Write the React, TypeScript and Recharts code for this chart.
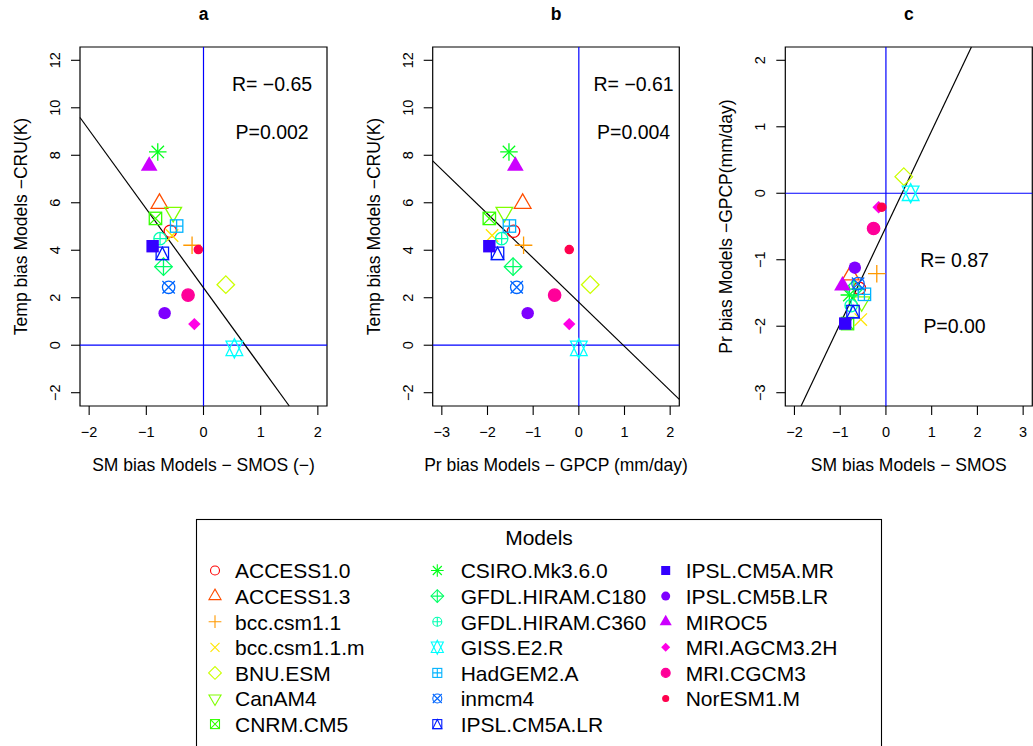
import React from 'react';
import { ScatterChart, Scatter, XAxis, YAxis, ReferenceLine, ReferenceArea } from 'recharts';

// ---------------- data ----------------
const models = [
  'ACCESS1.0', 'ACCESS1.3', 'bcc.csm1.1', 'bcc.csm1.1.m', 'BNU.ESM', 'CanAM4', 'CNRM.CM5',
  'CSIRO.Mk3.6.0', 'GFDL.HIRAM.C180', 'GFDL.HIRAM.C360', 'GISS.E2.R', 'HadGEM2.A', 'inmcm4', 'IPSL.CM5A.LR',
  'IPSL.CM5A.MR', 'IPSL.CM5B.LR', 'MIROC5', 'MRI.AGCM3.2H', 'MRI.CGCM3', 'NorESM1.M',
];
const smBias = [-0.58, -0.77, -0.2, -0.55, 0.39, -0.53, -0.84, -0.8, -0.7, -0.76, 0.54, -0.47, -0.61, -0.72, -0.89, -0.68, -0.95, -0.16, -0.27, -0.09];
const prBias = [-1.43, -1.23, -1.21, -1.9, 0.25, -1.63, -1.96, -1.53, -1.44, -1.69, 0.0, -1.52, -1.36, -1.78, -1.96, -1.12, -1.39, -0.21, -0.53, -0.21];
const tempBias = [4.8, 5.97, 4.21, 4.62, 2.55, 5.6, 5.34, 8.14, 3.31, 4.49, -0.13, 5.02, 2.44, 3.87, 4.17, 1.35, 7.55, 0.89, 2.11, 4.03];
const pchCodes = [1, 2, 3, 4, 5, 6, 7, 8, 9, 10, 11, 12, 13, 14, 15, 16, 17, 18, 19, 20];
const modelColors = [
  '#FF0000', '#FF4D00', '#FF9900', '#FFE500', '#CCFF00', '#80FF00', '#33FF00', '#00FF19', '#00FF66', '#00FFB2',
  '#00FFFF', '#00B3FF', '#0066FF', '#0019FF', '#3300FF', '#7F00FF', '#CC00FF', '#FF00E6', '#FF0099', '#FF004D',
];

// fitted regression lines
const fitA = { intercept: 2.42, slope: -3.32 };
const fitB = { intercept: 1.81, slope: -1.86 };
const fitC = { intercept: -0.51, slope: 1.45 };

const statsA = [{ x: 1.2, y: 11, text: 'R= \u22120.65' }, { x: 1.2, y: 9, text: 'P=0.002' }];
const statsB = [{ x: 1.2, y: 11, text: 'R= \u22120.61' }, { x: 1.2, y: 9, text: 'P=0.004' }];
const statsC = [{ x: 1.5, y: -1, text: 'R= 0.87' }, { x: 1.5, y: -2, text: 'P=0.00' }];

const xTicksA = [-2, -1, 0, 1, 2];
const xTicksB = [-3, -2, -1, 0, 1, 2];
const xTicksC = [-2, -1, 0, 1, 2, 3];
const yTicksTemp = [-2, 0, 2, 4, 6, 8, 10, 12];
const yTicksPr = [-3, -2, -1, 0, 1, 2];

const titles = ['a', 'b', 'c'];
const xLabels = ['SM bias Models \u2212 SMOS (\u2212)', 'Pr bias Models \u2212 GPCP (mm/day)', 'SM bias Models \u2212 SMOS'];
const yLabels = ['Temp bias Models \u2212CRU(K)', 'Temp bias Models \u2212CRU(K)', 'Pr bias Models \u2212GPCP(mm/day)'];
const legendTitle = 'Models';

// ---------------- styling ----------------
const FONT = '"Liberation Sans", Arial, Helvetica, sans-serif';
const CHART_H = 490;
const PLOT_TOP = 47;
const PLOT_BOTTOM = 406;
const XAXIS_H = 40;
const YAXIS_W = 40;

const fmt = (v: number) => (v < 0 ? '\u2212' + Math.abs(v) : String(v));

function PchSymbol({ pch, cx, cy, color, r, lw }: any) {
  const s = { stroke: color, strokeWidth: lw, fill: 'none' };
  const f = { fill: color, stroke: 'none' };
  const tc0 = 1.5551, tc1 = 1.3468, tc2 = 0.7776;
  const h2 = Math.SQRT2 * r;
  const plus = (h: number) => <path d={`M${cx - h},${cy}H${cx + h}M${cx},${cy - h}V${cy + h}`} {...s} />;
  const times = (h: number) => (
    <path d={`M${cx - h},${cy - h}L${cx + h},${cy + h}M${cx - h},${cy + h}L${cx + h},${cy - h}`} {...s} />
  );
  const square = (h: number, st: any) => <rect x={cx - h} y={cy - h} width={2 * h} height={2 * h} {...st} />;
  const diamond = (h: number, st: any) => (
    <polygon points={`${cx - h},${cy} ${cx},${cy - h} ${cx + h},${cy} ${cx},${cy + h}`} {...st} />
  );
  const triUp = (st: any, yb = tc2) => (
    <polygon points={`${cx},${cy - tc0 * r} ${cx + tc1 * r},${cy + yb * r} ${cx - tc1 * r},${cy + yb * r}`} {...st} />
  );
  const triDown = (st: any, yb = tc2) => (
    <polygon points={`${cx},${cy + tc0 * r} ${cx + tc1 * r},${cy - yb * r} ${cx - tc1 * r},${cy - yb * r}`} {...st} />
  );
  switch (pch) {
    case 1: return <circle cx={cx} cy={cy} r={r} {...s} />;
    case 2: return triUp(s);
    case 3: return plus(h2);
    case 4: return times(r);
    case 5: return diamond(h2, s);
    case 6: return triDown(s);
    case 7: return <g>{square(r, s)}{times(r)}</g>;
    case 8: return <g>{times(r)}{plus(h2)}</g>;
    case 9: return <g>{diamond(h2, s)}{plus(h2)}</g>;
    case 10: return <g><circle cx={cx} cy={cy} r={r} {...s} />{plus(r)}</g>;
    case 11: {
      const yc = 0.5 * (tc2 + tc0);
      return <g>{triUp(s, yc)}{triDown(s, yc)}</g>;
    }
    case 12: return <g>{square(r, s)}{plus(r)}</g>;
    case 13: return <g><circle cx={cx} cy={cy} r={r} {...s} />{times(r)}</g>;
    case 14: return (
      <g>
        {square(r, s)}
        <polygon points={`${cx},${cy - r} ${cx + r},${cy + r} ${cx - r},${cy + r}`} {...s} />
      </g>
    );
    case 15: return square(r, f);
    case 16: return <circle cx={cx} cy={cy} r={r} {...f} />;
    case 17: return triUp(f);
    case 18: return diamond(r, f);
    case 19: return <circle cx={cx} cy={cy} r={r} fill={color} stroke={color} strokeWidth={lw} />;
    case 20: return <circle cx={cx} cy={cy} r={(2 / 3) * r} fill={color} stroke={color} strokeWidth={lw} />;
    default: return null;
  }
}

function clipLine(fit: { intercept: number; slope: number }, xd: number[], yd: number[]) {
  const f = (x: number) => fit.intercept + fit.slope * x;
  const g = (y: number) => (y - fit.intercept) / fit.slope;
  const e = 1e-9;
  const c = [
    { x: xd[0], y: f(xd[0]) },
    { x: xd[1], y: f(xd[1]) },
    { x: g(yd[0]), y: yd[0] },
    { x: g(yd[1]), y: yd[1] },
  ].filter((p) => p.x >= xd[0] - e && p.x <= xd[1] + e && p.y >= yd[0] - e && p.y <= yd[1] + e);
  c.sort((a, b) => a.x - b.x);
  return [c[0], c[c.length - 1]];
}

type PanelProps = {
  left: number;
  plotLeft: number;
  plotRight: number;
  xDomain: number[];
  yDomain: number[];
  xTicks: number[];
  yTicks: number[];
  xs: number[];
  ys: number[];
  fit: { intercept: number; slope: number };
  stats: { x: number; y: number; text: string }[];
};

function Panel(p: PanelProps) {
  const width = p.plotRight - p.left + (p.left + (p.plotRight - p.left) < 1033 ? 10 : 0);
  const marginRight = width - (p.plotRight - p.left);
  const plotLeftRel = p.plotLeft - p.left;
  const data = p.xs.map((x, i) => ({ x, y: p.ys[i], i }));
  const seg = clipLine(p.fit, p.xDomain, p.yDomain);
  return (
    <div style={{ position: 'absolute', left: p.left, top: 0 }}>
      <ScatterChart
        width={width}
        height={CHART_H}
        margin={{ top: PLOT_TOP, right: marginRight, bottom: CHART_H - PLOT_BOTTOM - XAXIS_H, left: plotLeftRel - YAXIS_W }}
      >
        <XAxis
          type="number"
          dataKey="x"
          domain={p.xDomain}
          ticks={p.xTicks}
          interval={0}
          allowDataOverflow
          height={XAXIS_H}
          axisLine={false}
          tickSize={9}
          tickLine={{ stroke: '#000', strokeWidth: 1.1 }}
          tick={(t: any) => (
            <text x={t.x} y={PLOT_BOTTOM + 31} textAnchor="middle" fontFamily={FONT} fontSize={14.5} fill="#000">
              {fmt(t.payload.value)}
            </text>
          )}
        />
        <YAxis
          type="number"
          dataKey="y"
          domain={p.yDomain}
          ticks={p.yTicks}
          interval={0}
          allowDataOverflow
          width={YAXIS_W}
          axisLine={false}
          tickSize={9}
          tickLine={{ stroke: '#000', strokeWidth: 1.1 }}
          tick={(t: any) => {
            const tx = plotLeftRel - 20;
            return (
              <text
                x={tx}
                y={t.y}
                transform={`rotate(-90, ${tx}, ${t.y})`}
                textAnchor="middle"
                fontFamily={FONT}
                fontSize={14.5}
                fill="#000"
              >
                {fmt(t.payload.value)}
              </text>
            );
          }}
        />
        <ReferenceLine x={0} stroke="#0000FF" strokeWidth={1.2} ifOverflow="visible" />
        <ReferenceLine y={0} stroke="#0000FF" strokeWidth={1.2} ifOverflow="visible" />
        <Scatter
          data={data}
          isAnimationActive={false}
          shape={(s: any) => (
            <PchSymbol
              pch={pchCodes[s.payload.i]}
              cx={s.cx}
              cy={s.cy}
              color={modelColors[s.payload.i]}
              r={6.2}
              lw={1.3}
            />
          )}
        />
        <ReferenceLine segment={seg} stroke="#000" strokeWidth={1.2} ifOverflow="visible" />
        <Scatter
          data={p.stats}
          isAnimationActive={false}
          shape={(s: any) => (
            <text x={s.cx} y={s.cy + 7} textAnchor="middle" fontFamily={FONT} fontSize={19.5} fill="#000">
              {s.payload.text}
            </text>
          )}
        />
        <ReferenceArea
          x1={p.xDomain[0]}
          x2={p.xDomain[1]}
          y1={p.yDomain[0]}
          y2={p.yDomain[1]}
          fill="none"
          fillOpacity={0}
          stroke="#000"
          strokeWidth={1.2}
          ifOverflow="visible"
        />
      </ScatterChart>
    </div>
  );
}

const plotBoxes = [
  { l: 80, r: 327 },
  { l: 432.7, r: 679.3 },
  { l: 785.3, r: 1032.3 },
];

export default function App() {
  const legendRows = 7;
  const colSymX = [215, 437.3, 665.7];
  const colTextX = [235, 460.7, 685.7];
  const rowY0 = 570.5;
  const rowDY = 25.6;
  return (
    <div style={{ position: 'fixed', left: 0, top: 0, width: 1033, height: 746, overflow: 'hidden', background: '#fff' }}>
      <Panel
        left={0}
        plotLeft={plotBoxes[0].l}
        plotRight={plotBoxes[0].r}
        xDomain={[-2.16, 2.16]}
        yDomain={[-2.56, 12.56]}
        xTicks={xTicksA}
        yTicks={yTicksTemp}
        xs={smBias}
        ys={tempBias}
        fit={fitA}
        stats={statsA}
      />
      <Panel
        left={345}
        plotLeft={plotBoxes[1].l}
        plotRight={plotBoxes[1].r}
        xDomain={[-3.2, 2.2]}
        yDomain={[-2.56, 12.56]}
        xTicks={xTicksB}
        yTicks={yTicksTemp}
        xs={prBias}
        ys={tempBias}
        fit={fitB}
        stats={statsB}
      />
      <Panel
        left={700}
        plotLeft={plotBoxes[2].l}
        plotRight={plotBoxes[2].r}
        xDomain={[-2.2, 3.2]}
        yDomain={[-3.2, 2.2]}
        xTicks={xTicksC}
        yTicks={yTicksPr}
        xs={smBias}
        ys={prBias}
        fit={fitC}
        stats={statsC}
      />
      <svg
        width={1033}
        height={746}
        style={{ position: 'absolute', left: 0, top: 0, pointerEvents: 'none' }}
        fontFamily={FONT}
      >
        {plotBoxes.map((b, k) => {
          const cx = (b.l + b.r) / 2;
          const cy = (PLOT_TOP + PLOT_BOTTOM) / 2;
          const yx = b.l - 53;
          return (
            <g key={k}>
              <text x={cx} y={20} textAnchor="middle" fontWeight="bold" fontSize={17.5} fill="#000">
                {titles[k]}
              </text>
              <text x={cx} y={PLOT_BOTTOM + 64.5} textAnchor="middle" fontSize={17.5} fill="#000">
                {xLabels[k]}
              </text>
              <text
                x={yx}
                y={cy}
                transform={`rotate(-90, ${yx}, ${cy})`}
                textAnchor="middle"
                fontSize={17.5}
                fill="#000"
              >
                {yLabels[k]}
              </text>
            </g>
          );
        })}
        <rect x={196.5} y={519.5} width={685} height={240} fill="none" stroke="#000" strokeWidth={1.1} />
        <text x={539} y={545} textAnchor="middle" fontSize={21} fill="#000">
          {legendTitle}
        </text>
        {models.map((m, i) => {
          const col = Math.floor(i / legendRows);
          const row = i % legendRows;
          const y = rowY0 + row * rowDY;
          return (
            <g key={m}>
              <PchSymbol pch={pchCodes[i]} cx={colSymX[col]} cy={y} color={modelColors[i]} r={4.5} lw={1.1} />
              <text x={colTextX[col]} y={y + 7.8} fontSize={21} fill="#000">
                {m}
              </text>
            </g>
          );
        })}
      </svg>
    </div>
  );
}
